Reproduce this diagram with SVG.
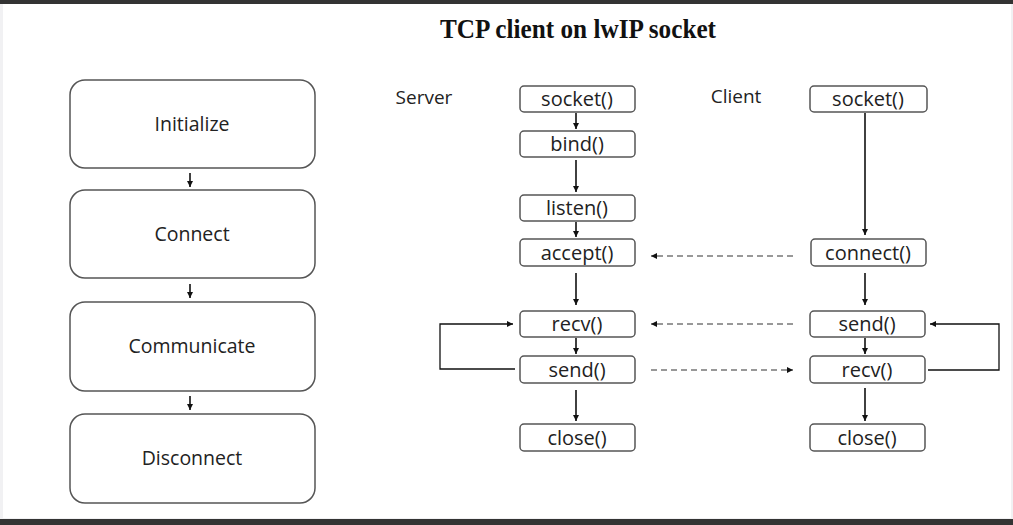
<svg xmlns="http://www.w3.org/2000/svg" width="1013" height="525" viewBox="0 0 1013 525">
<defs>
<marker id="ah" viewBox="0 0 10 10" refX="10" refY="5" markerWidth="6" markerHeight="6" orient="auto" markerUnits="userSpaceOnUse"><path d="M0,0 L10,5 L0,10 z" fill="#111"/></marker>
<style>
.big{fill:#fff;stroke:#555;stroke-width:1.5}
.sm{fill:#fff;stroke:#555;stroke-width:1.5}
.t{font-family:"Open Sans","Liberation Sans",sans-serif;font-size:19.5px;fill:#222;text-anchor:middle}
.ts{font-family:"Open Sans","Liberation Sans",sans-serif;font-size:20px;fill:#222;text-anchor:middle}
.lbl{font-family:"Open Sans","Liberation Sans",sans-serif;font-size:19px;fill:#222;text-anchor:middle}
.ln{fill:none;stroke:#111;stroke-width:1.6}
.ds{fill:none;stroke:#333;stroke-width:1.2;stroke-dasharray:6,4}
</style>
</defs>
<rect x="0" y="0" width="1013" height="525" fill="#f1f1f3"/>
<rect x="3" y="4" width="1008" height="514" fill="#fff"/>
<rect x="0" y="0" width="1013" height="4" fill="#333"/>
<rect x="0" y="519" width="1013" height="6" fill="#333"/>
<text x="578" y="38" font-family="Liberation Serif,serif" font-weight="bold" font-size="26.5" fill="#111" text-anchor="middle" textLength="276" lengthAdjust="spacingAndGlyphs">TCP client on lwIP socket</text>

<g id="n-init"><rect class="big" x="70" y="80" width="245" height="88" rx="15"/><text class="t" x="192" y="131">Initialize</text></g>
<g id="n-connect"><rect class="big" x="70" y="190" width="245" height="88" rx="15"/><text class="t" x="192" y="241">Connect</text></g>
<g id="n-comm"><rect class="big" x="70" y="302" width="245" height="89" rx="15"/><text class="t" x="192" y="353">Communicate</text></g>
<g id="n-disc"><rect class="big" x="70" y="414" width="245" height="89" rx="15"/><text class="t" x="192" y="465">Disconnect</text></g>

<g id="l-server"><text class="lbl" x="424" y="104">Server</text></g>
<g id="l-client"><text class="lbl" x="736" y="103">Client</text></g>

<g id="s-socket"><rect class="sm" x="520" y="86" width="115" height="26" rx="4"/><text class="ts" x="577" y="106">socket()</text></g>
<g id="s-bind"><rect class="sm" x="520" y="131" width="115" height="26" rx="4"/><text class="ts" x="577" y="151">bind()</text></g>
<g id="s-listen"><rect class="sm" x="520" y="195" width="115" height="26" rx="4"/><text class="ts" x="577" y="215">listen()</text></g>
<g id="s-accept"><rect class="sm" x="520" y="239" width="115" height="27" rx="4"/><text class="ts" x="577" y="260">accept()</text></g>
<g id="s-recv"><rect class="sm" x="520" y="311" width="115" height="26" rx="4"/><text class="ts" x="577" y="331">recv()</text></g>
<g id="s-send"><rect class="sm" x="520" y="356" width="115" height="27" rx="4"/><text class="ts" x="577" y="377">send()</text></g>
<g id="s-close"><rect class="sm" x="520" y="424" width="115" height="27" rx="4"/><text class="ts" x="577" y="445">close()</text></g>

<g id="c-socket"><rect class="sm" x="810" y="86" width="117" height="26" rx="4"/><text class="ts" x="868" y="106">socket()</text></g>
<g id="c-connect"><rect class="sm" x="811" y="239" width="115" height="27" rx="4"/><text class="ts" x="868" y="260">connect()</text></g>
<g id="c-send"><rect class="sm" x="810" y="311" width="115" height="26" rx="4"/><text class="ts" x="867" y="331">send()</text></g>
<g id="c-recv"><rect class="sm" x="810" y="356" width="115" height="27" rx="4"/><text class="ts" x="867" y="377">recv()</text></g>
<g id="c-close"><rect class="sm" x="810" y="424" width="115" height="27" rx="4"/><text class="ts" x="867" y="445">close()</text></g>

<g id="connectors">
<line class="ln" x1="190" y1="173" x2="190" y2="187" marker-end="url(#ah)"/>
<line class="ln" x1="190" y1="284" x2="190" y2="298" marker-end="url(#ah)"/>
<line class="ln" x1="190" y1="396" x2="190" y2="410" marker-end="url(#ah)"/>

<line class="ln" x1="576" y1="113" x2="576" y2="129" marker-end="url(#ah)"/>
<line class="ln" x1="576" y1="160" x2="576" y2="192" marker-end="url(#ah)"/>
<line class="ln" x1="576" y1="222" x2="576" y2="237" marker-end="url(#ah)"/>
<line class="ln" x1="576" y1="273" x2="576" y2="305" marker-end="url(#ah)"/>
<line class="ln" x1="576" y1="338" x2="576" y2="354" marker-end="url(#ah)"/>
<line class="ln" x1="576" y1="390" x2="576" y2="421" marker-end="url(#ah)"/>

<line class="ln" x1="865" y1="113" x2="865" y2="235" marker-end="url(#ah)"/>
<line class="ln" x1="865" y1="273" x2="865" y2="305" marker-end="url(#ah)"/>
<line class="ln" x1="865" y1="338" x2="865" y2="354" marker-end="url(#ah)"/>
<line class="ln" x1="865" y1="388" x2="865" y2="421" marker-end="url(#ah)"/>

<line class="ds" x1="793" y1="256" x2="651" y2="256" marker-end="url(#ah)"/>
<line class="ds" x1="793" y1="324" x2="651" y2="324" marker-end="url(#ah)"/>
<line class="ds" x1="651" y1="370" x2="793" y2="370" marker-end="url(#ah)"/>

<polyline class="ln" points="515,369 440,369 440,324 513,324" marker-end="url(#ah)" style="stroke-width:1.3"/>
<polyline class="ln" points="928,370 999,370 999,324 930,324" marker-end="url(#ah)" style="stroke-width:1.3"/>
</g>
</svg>
